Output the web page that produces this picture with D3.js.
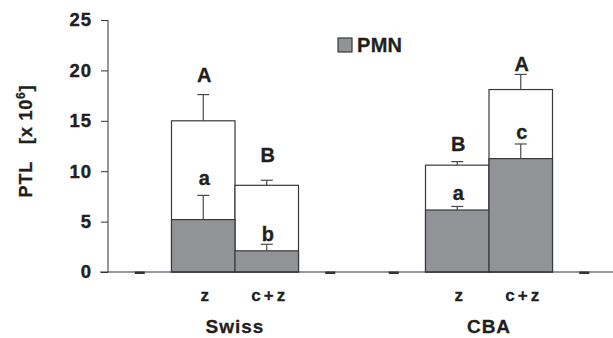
<html>
<head>
	<style>
		body{margin:0;background:#fff;}
		text{font-family:"Liberation Sans",Arial,sans-serif;font-weight:bold;fill:#231f20;white-space:pre;}
	</style>
</head>
<body>
	<script src="https://d3js.org/d3.v7.min.js"></script>
	<script>
var width = 613, height = 338;
// slots along the x axis (empty ones are zero)
let slots = ["s0","Swiss z","Swiss c+z","s3","s4","CBA z","CBA c+z","s7"]
let tickLabels = ["","z","c+z","","","z","c+z",""]
let groups = [{name:"Swiss",first:"Swiss z"},{name:"CBA",first:"CBA z"}]
let total = [0,15.0,8.6,0,0,10.6,18.1,0]
let totalErr = [0,17.6,9.1,0,0,10.95,19.6,0]
let pmn = [0,5.2,2.1,0,0,6.15,11.25,0]
let pmnErr = [0,7.6,2.75,0,0,6.5,12.7,0]
let upperLetters = ["","A","B","","","B","A",""]
let upperLetterAt = [0,18.8,10.9,0,0,12.0,19.95,0]
let lowerLetters = ["","a","b","","","a","c",""]
let lowerLetterAt = [0,8.65,3.1,0,0,7.15,13.2,0]
let yTicks = [0,5,10,15,20,25]

let data = slots.map((s,i)=>({slot:s,total:total[i],totalErr:totalErr[i],pmn:pmn[i],pmnErr:pmnErr[i],
	U:upperLetters[i],Uy:upperLetterAt[i],L:lowerLetters[i],Ly:lowerLetterAt[i]}))

var svg = d3.select("body").append("svg").attr("width",width).attr("height",height)

var x = d3.scaleBand().domain(slots).range([108,616]).padding(0)
var y = d3.scaleLinear().domain([0,25]).range([272,20])

// y axis
let ya = svg.append("g").attr("transform","translate(108,0)")
	.call(d3.axisLeft(y).tickValues(yTicks).tickSize(7).tickPadding(9))
ya.select(".domain").attr("stroke","#333").attr("d","M0,20V272")
ya.selectAll(".tick line").attr("stroke","#333")
ya.selectAll(".tick text").attr("font-size",18.5).attr("letter-spacing",1)
	.attr("font-family","Liberation Sans, Arial, sans-serif").attr("font-weight","bold")
	.attr("fill","#231f20").attr("stroke","#231f20").attr("stroke-width",0.4)

// stacked bars
let bars = svg.append("g")
let real = data.filter(d=>d.total>0)
bars.selectAll(".tot").data(real).enter().append("rect")
	.attr("x",d=>x(d.slot)).attr("y",d=>y(d.total))
	.attr("width",x.bandwidth()).attr("height",d=>y(0)-y(d.total))
	.attr("fill","#fff").attr("stroke","#3a3a3a").attr("stroke-width",1.2)
bars.selectAll(".pmn").data(real).enter().append("rect")
	.attr("x",d=>x(d.slot)).attr("y",d=>y(d.pmn))
	.attr("width",x.bandwidth()).attr("height",d=>y(0)-y(d.pmn))
	.attr("fill","#929396").attr("stroke","#3a3a3a").attr("stroke-width",1.2)

// error bars
function errBars(top,err){
	let g = svg.append("g").attr("stroke","#4a4a4a").attr("stroke-width",1.2)
	g.selectAll("line.v").data(real).enter().append("line")
		.attr("x1",d=>x(d.slot)+x.bandwidth()/2).attr("x2",d=>x(d.slot)+x.bandwidth()/2)
		.attr("y1",d=>y(d[top])).attr("y2",d=>y(d[err]))
	g.selectAll("line.c").data(real).enter().append("line")
		.attr("x1",d=>x(d.slot)+x.bandwidth()/2-6).attr("x2",d=>x(d.slot)+x.bandwidth()/2+6)
		.attr("y1",d=>y(d[err])).attr("y2",d=>y(d[err]))
}
errBars("total","totalErr")
errBars("pmn","pmnErr")

// x axis line
svg.append("line").attr("x1",100).attr("x2",613).attr("y1",y(0)).attr("y2",y(0))
	.attr("stroke","#333").attr("stroke-width",1.2)
// zero bars marks
svg.selectAll(".zero").data(data.filter(d=>d.total==0)).enter().append("rect")
	.attr("x",d=>x(d.slot)+x.bandwidth()/2-5).attr("y",y(0)-0.5)
	.attr("width",10).attr("height",2.5).attr("fill","#333")

// significance letters
svg.selectAll(".U").data(real).enter().append("text")
	.attr("x",d=>x(d.slot)+x.bandwidth()/2+1).attr("y",d=>y(d.Uy))
	.attr("text-anchor","middle").attr("font-size",20).attr("stroke","#231f20").attr("stroke-width",0.3).text(d=>d.U)
svg.selectAll(".L").data(real).enter().append("text")
	.attr("x",d=>x(d.slot)+x.bandwidth()/2+1).attr("y",d=>y(d.Ly))
	.attr("text-anchor","middle").attr("font-size",20).attr("stroke","#231f20").attr("stroke-width",0.3).text(d=>d.L)

// category labels
svg.selectAll(".cat").data(slots).enter().append("text")
	.attr("x",d=>x(d)+x.bandwidth()/2+3).attr("y",301)
	.attr("text-anchor","middle").attr("font-size",17).attr("letter-spacing",3)
	.attr("stroke","#231f20").attr("stroke-width",0.3)
	.text((d,i)=>tickLabels[i])
svg.selectAll(".grp").data(groups).enter().append("text")
	.attr("x",d=>x(d.first)+x.bandwidth()).attr("y",333)
	.attr("text-anchor","middle").attr("font-size",19).attr("letter-spacing",1)
	.attr("stroke","#231f20").attr("stroke-width",0.3)
	.text(d=>d.name)

// y title
let yt = svg.append("text").attr("transform","translate(32,141) rotate(-90)")
	.attr("text-anchor","middle").attr("font-size",18).attr("letter-spacing",0.8)
	.attr("stroke","#231f20").attr("stroke-width",0.3)
yt.append("tspan").text("PTL   [x 10")
yt.append("tspan").attr("dy",-7).attr("font-size",12).text("6")
yt.append("tspan").attr("dy",7).text("]")

// legend
svg.append("rect").attr("x",338).attr("y",38).attr("width",14).attr("height",14)
	.attr("fill","#929396").attr("stroke","#3a3a3a").attr("stroke-width",1.2)
svg.append("text").attr("x",357).attr("y",52).attr("font-size",20).attr("letter-spacing",0.3)
	.attr("stroke","#231f20").attr("stroke-width",0.3).text("PMN")
	</script>
</body>
</html>
